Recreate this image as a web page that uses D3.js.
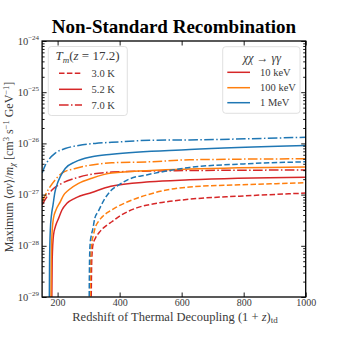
<!DOCTYPE html>
<html><head><meta charset="utf-8">
<script src="https://cdn.jsdelivr.net/npm/d3@7"></script>
<style>body{margin:0;background:#fff;} text{font-family:"Liberation Serif","DejaVu Serif",serif;}</style>
</head><body>
<script>
// ---- data ----
const xTicks = [200, 400, 600, 800, 1000];
const yTicks = [1e-29, 1e-28, 1e-27, 1e-26, 1e-25, 1e-24];
const yTickExp = ["−29", "−28", "−27", "−26", "−25", "−24"];
const masses = ["10 keV", "100 keV", "1 MeV"];
const temps = ["3.0 K", "5.2 K", "7.0 K"];

// 1 MeV
const z_1MeV_30 = [301.5, 303, 305, 308, 314, 320, 331, 352, 372, 400, 430, 490, 550, 626, 800, 1000];
const v_1MeV_30 = [5.0e-30, 5.25e-29, 1.12e-28, 1.51e-28, 2.19e-28, 3.47e-28, 4.68e-28, 8.32e-28, 1.20e-27, 1.58e-27, 2.00e-27, 2.45e-27, 2.88e-27, 3.39e-27, 3.98e-27, 4.37e-27];
const z_1MeV_52 = [173.0, 174.1, 176.4, 180.2, 185.0, 191.4, 197.8, 208.5, 224.6, 256.8, 310.5, 374.8, 625.6, 1000];
const v_1MeV_52 = [5.0e-30, 5.25e-29, 2.0e-28, 3.98e-28, 6.17e-28, 1.12e-27, 1.55e-27, 2.24e-27, 3.24e-27, 4.37e-27, 5.50e-27, 6.17e-27, 7.59e-27, 9.12e-27];
const z_1MeV_70 = [150, 159.3, 171.2, 192.4, 224.6, 267.7, 321.1, 374.8, 497, 625.6, 1000];
const v_1MeV_70 = [2.63e-27, 3.63e-27, 4.79e-27, 6.46e-27, 7.94e-27, 9.12e-27, 1.00e-26, 1.05e-26, 1.15e-26, 1.17e-26, 1.32e-26];
// 100 keV
const z_100keV_30 = [304.5, 306.5, 310, 315, 321, 332, 343, 369, 388, 426, 486, 551, 626, 786, 1000];
const v_100keV_30 = [5.0e-30, 5.25e-29, 1.12e-28, 1.58e-28, 2.24e-28, 3.02e-28, 3.63e-28, 4.79e-28, 5.62e-28, 7.24e-28, 9.77e-28, 1.23e-27, 1.41e-27, 1.55e-27, 1.70e-27];
const z_100keV_52 = [178.3, 179.6, 181.8, 186.7, 194.7, 208.5, 219.5, 235.5, 267.7, 310.5, 374.8, 625.6, 1000];
const v_100keV_52 = [5.0e-30, 5.25e-29, 1.62e-28, 3.47e-28, 5.01e-28, 7.24e-28, 9.77e-28, 1.23e-27, 1.66e-27, 2.09e-27, 2.63e-27, 3.16e-27, 3.47e-27];
const z_100keV_70 = [150, 160.3, 171.2, 192.4, 214, 256.8, 310.5, 374.8, 497, 625.6, 1000];
const v_100keV_70 = [7.24e-28, 9.77e-28, 1.29e-27, 1.95e-27, 2.63e-27, 3.24e-27, 3.80e-27, 4.17e-27, 4.37e-27, 4.79e-27, 5.01e-27];
// 10 keV
const z_10keV_30 = [308, 310, 314, 322, 334, 358, 375, 400, 455, 520, 626, 786, 1000];
const v_10keV_30 = [5.0e-30, 5.01e-29, 1.05e-28, 1.41e-28, 1.82e-28, 2.51e-28, 2.95e-28, 3.80e-28, 5.50e-28, 6.76e-28, 8.13e-28, 9.33e-28, 1.07e-27];
const z_10keV_52 = [180.9, 182.5, 186.7, 194.7, 203.4, 214.0, 230.1, 256.8, 310.5, 371.5, 497, 625.6, 1000];
const v_10keV_52 = [5.0e-30, 5.25e-29, 1.62e-28, 2.57e-28, 3.47e-28, 5.01e-28, 6.76e-28, 8.51e-28, 1.10e-27, 1.45e-27, 1.78e-27, 1.95e-27, 2.19e-27];
const z_10keV_70 = [150, 165.8, 181.8, 214, 256.8, 310.5, 374.8, 497, 625.6, 1000];
const v_10keV_70 = [6.31e-28, 9.12e-28, 1.23e-27, 1.66e-27, 2.09e-27, 2.51e-27, 2.75e-27, 2.88e-27, 2.95e-27, 3.02e-27];

// ---- styles ----
const colors = {"10 keV": "#d62728", "100 keV": "#ff7f0e", "1 MeV": "#1f77b4"};
const dashes = {"3.0 K": "5.5,2.4", "5.2 K": null, "7.0 K": "9.6,2.4,1.5,2.4"};

const series = [
  {m: "10 keV", t: "7.0 K", z: z_10keV_70, v: v_10keV_70},
  {m: "100 keV", t: "7.0 K", z: z_100keV_70, v: v_100keV_70},
  {m: "1 MeV", t: "7.0 K", z: z_1MeV_70, v: v_1MeV_70},
  {m: "10 keV", t: "5.2 K", z: z_10keV_52, v: v_10keV_52},
  {m: "100 keV", t: "5.2 K", z: z_100keV_52, v: v_100keV_52},
  {m: "1 MeV", t: "5.2 K", z: z_1MeV_52, v: v_1MeV_52},
  {m: "10 keV", t: "3.0 K", z: z_10keV_30, v: v_10keV_30},
  {m: "100 keV", t: "3.0 K", z: z_100keV_30, v: v_100keV_30},
  {m: "1 MeV", t: "3.0 K", z: z_1MeV_30, v: v_1MeV_30},
];

const W = 340, H = 340;
const L = 42.1, R = 305.7, T = 41, B = 297;
const svg = d3.select("body").append("svg").attr("width", W).attr("height", H);
const x = d3.scaleLinear().domain([150, 1000]).range([L, R]);
const y = d3.scaleLog().domain([1e-29, 1e-24]).range([B, T]);

svg.append("defs").append("clipPath").attr("id", "clip")
  .append("rect").attr("x", L).attr("y", T).attr("width", R - L).attr("height", B - T);

const line = d3.line().x(d => x(d[0])).y(d => y(d[1])).curve(d3.curveMonotoneX);
const g = svg.append("g").attr("clip-path", "url(#clip)");
series.forEach(s => {
  g.append("path").datum(s.z.map((z, i) => [z, s.v[i]]))
    .attr("d", line).attr("fill", "none")
    .attr("stroke", colors[s.m]).attr("stroke-width", 1.5)
    .attr("stroke-dasharray", dashes[s.t]);
});

const textColor = "#3a3a3a";
// axes
const xb = svg.append("g").attr("transform", `translate(0,${B})`)
  .call(d3.axisBottom(x).tickValues(xTicks).tickSize(-4.5).tickPadding(2).tickFormat(d3.format("d")));
xb.select(".domain").remove();
xb.selectAll("text").attr("font-size", 10).attr("fill", textColor).attr("font-family", "Liberation Serif");
const xt = svg.append("g").attr("transform", `translate(0,${T})`)
  .call(d3.axisTop(x).tickValues(xTicks).tickSize(-4.5).tickFormat(""));
xt.select(".domain").remove();

const yMinor = [];
for (let e = -29; e < -24; e++) for (let k = 2; k <= 9; k++) yMinor.push(k * Math.pow(10, e));
[["axisLeft", L, -4.5, yTicks], ["axisRight", R, -4.5, yTicks], ["axisLeft", L, -2.5, yMinor], ["axisRight", R, -2.5, yMinor]]
  .forEach(([fn, pos, sz, vals]) => {
    const ax = svg.append("g").attr("transform", `translate(${pos},0)`)
      .call(d3[fn](y).tickValues(vals).tickSize(sz).tickFormat(""));
    ax.select(".domain").remove();
    ax.selectAll("line").attr("stroke-width", 0.9);
  });
xb.selectAll("line").attr("stroke-width", 0.9);
xt.selectAll("line").attr("stroke-width", 0.9);

// y tick labels
yTicks.forEach((v, i) => {
  const t = svg.append("text").attr("x", L - 3).attr("y", y(v) + 3.5)
    .attr("text-anchor", "end").attr("fill", textColor).attr("font-size", 10.5);
  t.append("tspan").text("10");
  t.append("tspan").attr("dy", -4.5).attr("font-size", 7).text(yTickExp[i]);
});

// frame
svg.append("rect").attr("x", L).attr("y", T).attr("width", R - L).attr("height", B - T)
  .attr("fill", "none").attr("stroke", "#000").attr("stroke-width", 1.3);

// title
svg.append("text").attr("x", 174).attr("y", 33).attr("text-anchor", "middle")
  .attr("font-weight", "bold").attr("font-size", 19).attr("fill", "#000")
  .text("Non-Standard Recombination");

// x label
const xl = svg.append("text").attr("x", 175).attr("y", 320.5).attr("text-anchor", "middle")
  .attr("font-size", 12.5).attr("fill", textColor);
xl.append("tspan").text("Redshift of Thermal Decoupling (1 + ");
xl.append("tspan").attr("font-style", "italic").text("z");
xl.append("tspan").text(")");
xl.append("tspan").attr("dy", 2.5).attr("font-size", 9).text("td");

// y label
const yl = svg.append("text").attr("transform", `translate(12.5,${(T + B) / 2 - 2}) rotate(-90)`)
  .attr("text-anchor", "middle").attr("font-size", 12).attr("fill", textColor);
yl.append("tspan").text("Maximum ⟨");
yl.append("tspan").attr("font-style", "italic").text("σv");
yl.append("tspan").text("⟩/");
yl.append("tspan").attr("font-style", "italic").text("m");
yl.append("tspan").attr("dy", 2.5).attr("font-size", 8.5).attr("font-style", "italic").text("χ");
yl.append("tspan").attr("dy", -2.5).text(" [cm");
yl.append("tspan").attr("dy", -4).attr("font-size", 8.5).text("3");
yl.append("tspan").attr("dy", 4).text(" s");
yl.append("tspan").attr("dy", -4).attr("font-size", 8.5).text("−1");
yl.append("tspan").attr("dy", 4).text(" GeV");
yl.append("tspan").attr("dy", -4).attr("font-size", 8.5).text("−1");
yl.append("tspan").attr("dy", 4).text("]");

// legend 1 (temperature)
const lg1 = svg.append("g");
lg1.append("rect").attr("x", 48.3).attr("y", 46.5).attr("width", 79).attr("height", 69).attr("rx", 3)
  .attr("fill", "#fff").attr("fill-opacity", 0.85).attr("stroke", "#d8d8d8").attr("stroke-width", 0.8);
const t1 = lg1.append("text").attr("x", 87.5).attr("y", 60).attr("text-anchor", "middle")
  .attr("font-size", 13).attr("fill", textColor);
t1.append("tspan").attr("font-style", "italic").text("T");
t1.append("tspan").attr("font-style", "italic").attr("dy", 3).attr("font-size", 9).text("m");
t1.append("tspan").attr("dy", -3).text("(");
t1.append("tspan").attr("font-style", "italic").text("z");
t1.append("tspan").text(" = 17.2)");
const ly1 = [73.3, 89.3, 105];
temps.forEach((tp, i) => {
  lg1.append("line").attr("x1", 59).attr("x2", 82).attr("y1", ly1[i]).attr("y2", ly1[i])
    .attr("stroke", colors["10 keV"]).attr("stroke-width", 1.5).attr("stroke-dasharray", dashes[tp]);
  lg1.append("text").attr("x", 91.5).attr("y", ly1[i] + 3.5).attr("font-size", 10.5)
    .attr("fill", textColor).text(tp);
});

// legend 2 (mass)
const lg2 = svg.append("g");
lg2.append("rect").attr("x", 222.7).attr("y", 46.7).attr("width", 77.3).attr("height", 66.6).attr("rx", 3)
  .attr("fill", "#fff").attr("fill-opacity", 0.85).attr("stroke", "#d8d8d8").attr("stroke-width", 0.8);
const t2 = lg2.append("text").attr("x", 262).attr("y", 62).attr("text-anchor", "middle")
  .attr("font-size", 12).attr("fill", textColor);
t2.append("tspan").attr("font-style", "italic").text("χχ");
t2.append("tspan").text(" → ");
t2.append("tspan").attr("font-style", "italic").text("γγ");
const ly2 = [72.3, 87.7, 102.7];
masses.forEach((m, i) => {
  lg2.append("line").attr("x1", 227.3).attr("x2", 250).attr("y1", ly2[i]).attr("y2", ly2[i])
    .attr("stroke", colors[m]).attr("stroke-width", 1.5);
  lg2.append("text").attr("x", 260).attr("y", ly2[i] + 3.5).attr("font-size", 10.5)
    .attr("fill", textColor).text(m);
});
</script>
</body></html>
